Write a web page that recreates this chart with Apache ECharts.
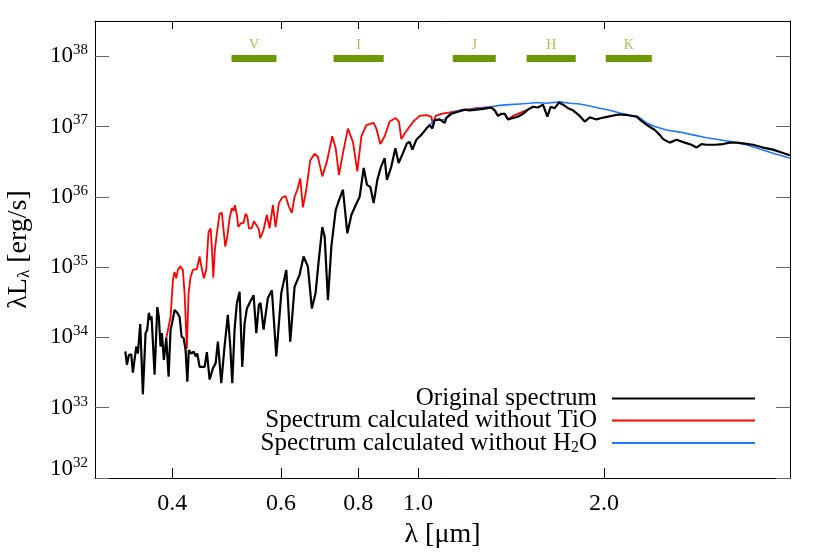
<!DOCTYPE html>
<html>
<head>
<meta charset="utf-8">
<script src="https://cdn.jsdelivr.net/npm/echarts@6/dist/echarts.min.js"></script>
<style>
  html, body { margin: 0; padding: 0; background: #fff; }
  #chart { width: 830px; height: 554px; }
</style>
</head>
<body>
<div id="chart"></div>
<script>
// wavelengths in micron, luminosities as log10(lambda L_lambda / erg s^-1)
const blackLambda = [0.3359,0.3379,0.3404,0.3434,0.3455,0.3476,0.3498,0.3520,0.3551,0.3586,
  0.3622,0.3645,0.3667,0.3686,0.3704,0.3746,0.3784,0.3806,0.3830,0.3849,
  0.3878,0.3913,0.3947,0.3976,0.4002,0.4036,0.4077,0.4112,0.4143,0.4174,
  0.4205,0.4232,0.4256,0.4295,0.4333,0.4365,0.4392,0.4430,0.4475,0.4514,
  0.4552,0.4599,0.4655,0.4703,0.4743,0.4803,0.4862,0.4922,0.4967,0.5004,
  0.5047,0.5091,0.5142,0.5194,0.5239,0.5284,0.5337,0.5418,0.5473,0.5525,
  0.5560,0.5623,0.5714,0.5800,0.5896,0.6007,0.6120,0.6211,0.6312,0.6430,
  0.6527,0.6632,0.6732,0.6826,0.6904,0.6999,0.7061,0.7148,0.7239,0.7357,
  0.7447,0.7559,0.7684,0.7799,0.7926,0.8045,0.8166,0.8266,0.8371,0.8475,
  0.8593,0.8698,0.8830,0.8905,0.9052,0.9190,0.9302,0.9453,0.9594,0.9692,
  0.9790,0.9936,1.0123,1.0313,1.0442,1.0548,1.0639,1.0839,1.1043,1.1112,
  1.1321,1.1602,1.1898,1.2120,1.2427,1.2737,1.3143,1.3305,1.3471,1.3643,
  1.3811,1.3983,1.4246,1.4514,1.4787,1.5063,1.5346,1.5635,1.5929,1.6195,
  1.6394,1.6641,1.6908,1.7163,1.7487,1.7816,1.8268,1.8612,1.8962,1.9441,
  1.9807,2.0301,2.0819,2.1211,2.1880,2.2576,2.2999,2.3573,2.4166,2.4620,
  2.4922,2.5553,2.6199,2.7026,2.7707,2.8228,2.8760,2.9302,3.0226,3.1179,
  3.1966,3.2776,3.3594,3.4853,3.6178,3.7547,3.8752,3.9967];
const blackLogL = [33.80,33.61,33.75,33.76,33.50,33.51,33.87,33.77,34.19,33.19,
  34.06,34.11,34.35,34.25,34.30,33.47,34.43,34.29,33.87,34.06,
  33.68,33.99,33.44,34.11,34.22,34.39,34.35,34.29,34.01,33.99,
  33.82,33.37,33.82,33.77,33.80,33.73,33.77,33.58,33.58,33.58,
  33.79,33.40,33.56,33.63,33.94,33.35,33.87,34.32,33.87,33.35,
  34.11,34.49,34.65,33.58,34.20,34.41,34.49,34.60,34.06,34.46,
  34.49,34.11,34.56,34.67,33.73,34.63,34.96,33.94,34.72,34.89,
  35.15,35.01,34.41,34.63,35.08,35.57,35.43,34.53,35.29,35.81,
  35.95,36.10,35.48,35.74,35.88,36.00,36.41,36.17,36.14,35.91,
  36.24,36.41,36.55,36.24,36.43,36.69,36.48,36.62,36.76,36.78,
  36.67,36.81,36.88,36.97,37.02,36.97,37.09,37.10,37.05,37.12,
  37.18,37.21,37.24,37.23,37.24,37.25,37.27,37.23,37.15,37.18,
  37.18,37.10,37.12,37.14,37.18,37.24,37.28,37.27,37.31,37.14,
  37.28,37.26,37.34,37.31,37.26,37.23,37.15,37.07,37.13,37.10,
  37.12,37.14,37.16,37.17,37.16,37.14,37.08,37.01,36.95,36.88,
  36.82,36.77,36.81,36.77,36.74,36.70,36.75,36.74,36.74,36.75,
  36.77,36.77,36.76,36.74,36.70,36.67,36.63,36.59];

const redLambda = [0.3913,0.3976,0.4011,0.4036,0.4061,0.4086,0.4122,0.4162,0.4189,0.4225,
  0.4252,0.4284,0.4321,0.4385,0.4430,0.4457,0.4501,0.4541,0.4580,0.4615,
  0.4637,0.4662,0.4689,0.4725,0.4773,0.4814,0.4844,0.4875,0.4911,0.4953,
  0.4996,0.5028,0.5052,0.5091,0.5117,0.5162,0.5219,0.5259,0.5292,0.5324,
  0.5378,0.5424,0.5473,0.5525,0.5554,0.5623,0.5692,0.5750,0.5822,0.5880,
  0.5953,0.6029,0.6103,0.6180,0.6248,0.6312,0.6376,0.6447,0.6510,0.6593,
  0.6692,0.6801,0.6885,0.6999,0.7120,0.7264,0.7357,0.7447,0.7559,0.7700,
  0.7845,0.7975,0.8095,0.8248,0.8475,0.8560,0.8689,0.8830,0.8996,0.9199,
  0.9313,0.9397,0.9513,0.9692,0.9849,1.0060,1.0313,1.0507,1.0570,1.0678,
  1.0906,1.1250,1.1602,1.1973,1.2427,1.2900,1.3143,1.3305,1.3471,1.3643,
  1.3811,1.3983,1.4246,1.4514,1.4787,1.5063];
const redLogL = [33.99,34.29,34.82,34.93,34.84,34.96,35.01,34.96,34.63,33.84,
  34.63,34.86,34.96,34.97,35.15,35.02,34.84,34.96,35.50,35.55,
  35.29,34.85,35.24,35.48,35.76,35.77,35.53,35.29,35.43,35.69,
  35.84,35.80,35.88,35.74,35.57,35.62,35.63,35.76,35.72,35.55,
  35.55,35.65,35.60,35.54,35.41,35.53,35.74,35.55,35.88,35.57,
  35.91,35.99,36.01,35.86,35.77,36.00,36.10,36.26,35.85,36.10,
  36.52,36.61,36.57,36.29,36.50,36.86,36.69,36.31,36.62,36.97,
  36.78,36.36,36.86,37.02,37.05,36.97,36.75,36.86,37.07,37.12,
  37.07,36.82,36.90,37.00,37.08,37.15,37.16,37.14,37.03,37.15,
  37.18,37.20,37.22,37.24,37.26,37.27,37.27,37.23,37.15,37.18,
  37.18,37.10,37.15,37.18,37.21,37.24];

const blueLambda = [1.0123,1.0442,1.0639,1.1043,1.1250,1.1678,1.2120,1.2580,1.3143,1.3557,
  1.4073,1.4607,1.5161,1.5542,1.6132,1.6955,1.7599,1.8268,1.8962,1.9679,
  2.0427,2.1211,2.2014,2.2711,2.3432,2.4166,2.5236,2.6525,2.7872,2.9302,
  3.0786,3.2362,3.4020,3.5735,3.7547,3.9967];
const blueLogL = [36.88,37.02,37.09,37.10,37.18,37.23,37.24,37.26,37.28,37.30,
  37.31,37.32,37.33,37.34,37.33,37.35,37.33,37.32,37.29,37.26,
  37.23,37.19,37.16,37.14,37.05,37.00,36.95,36.92,36.88,36.84,
  36.81,36.78,36.74,36.68,36.62,36.55];

// photometric bands (micron)
const bandNames = ['V', 'I', 'J', 'H', 'K'];
const bandStart = [0.499, 0.730, 1.138, 1.499, 2.013];
const bandEnd = [0.590, 0.880, 1.336, 1.800, 2.390];
const bandLogL = 37.967;
const bandLabelLogL = 38.16;

const seriesNames = ['Original spectrum', 'Spectrum calculated without TiO', 'Spectrum calculated without H2O'];
const xTicks = [0.4, 0.6, 0.8, 1.0, 2.0];
const yTickExps = [32, 33, 34, 35, 36, 37, 38];

const FONT = 'Liberation Serif';
const yTicks = yTickExps.map((e) => Math.pow(10, e));

function toPoints(lambda, logL) {
  const n = Math.min(lambda.length, logL.length);
  const out = [];
  for (let i = 0; i < n; i++) out.push([lambda[i], Math.pow(10, logL[i])]);
  return out;
}

const chart = echarts.init(document.getElementById('chart'), null, { renderer: 'canvas' });

const bandSeries = bandNames.map((name, i) => ({
  name: 'band-' + name,
  type: 'line',
  symbol: 'none',
  silent: true,
  z: 1,
  lineStyle: { color: '#6a9a00', width: 7, cap: 'butt' },
  data: [[bandStart[i], Math.pow(10, bandLogL)], [bandEnd[i], Math.pow(10, bandLogL)]]
}));

const bandLabels = {
  name: 'band-labels',
  type: 'scatter',
  symbolSize: 1,
  silent: true,
  itemStyle: { color: 'rgba(0,0,0,0)' },
  label: {
    show: true,
    position: 'inside',
    formatter: '{b}',
    fontFamily: FONT,
    fontSize: 14,
    color: '#8ab42e'
  },
  data: bandNames.map((name, i) => ({
    name: name,
    value: [Math.sqrt(bandStart[i] * bandEnd[i]), Math.pow(10, bandLabelLogL)]
  }))
};

const logX = {
  type: 'log',
  logBase: 10,
  min: 0.3,
  max: 4.0,
  splitLine: { show: false },
  axisLine: { show: true, onZero: false, lineStyle: { color: '#000', width: 1 } }
};
const logY = {
  type: 'log',
  logBase: 10,
  min: 1e32,
  max: Math.pow(10, 38.5),
  splitLine: { show: false },
  axisLine: { show: true, onZero: false, lineStyle: { color: '#000', width: 1 } }
};

const option = {
  animation: false,
  backgroundColor: '#fff',
  grid: { left: 95, right: 40, top: 21, bottom: 76, containLabel: false, outerBoundsMode: 'none' },
  legend: {
    data: seriesNames,
    orient: 'vertical',
    right: 75,
    top: 386,
    align: 'right',
    padding: 0,
    itemGap: -3,
    icon: 'rect',
    itemWidth: 143,
    itemHeight: 2,
    selectedMode: false,
    formatter: (name) => name === seriesNames[2]
      ? '{t|Spectrum calculated without H}{sub|2}{t|O}'
      : '{t|' + name + '}',
    textStyle: {
      fontFamily: FONT,
      fontSize: 25,
      lineHeight: 21,
      color: '#000',
      padding: [0, 10, 0, 0],
      rich: {
        t: { fontFamily: FONT, fontSize: 25, lineHeight: 21 },
        sub: { fontFamily: FONT, fontSize: 16, lineHeight: 21, padding: [10, 0, 0, 0] }
      }
    }
  },
  xAxis: [
    Object.assign({}, logX, {
      position: 'bottom',
      name: 'λ [μm]',
      nameLocation: 'middle',
      nameGap: 40,
      nameTextStyle: { fontFamily: FONT, fontSize: 28, color: '#000' },
      axisTick: { show: true, inside: true, length: 10, customValues: xTicks, lineStyle: { color: '#000' } },
      axisLabel: {
        show: true,
        customValues: xTicks,
        margin: 14,
        fontFamily: FONT,
        fontSize: 24,
        color: '#000',
        formatter: (v) => Number(v).toFixed(1)
      }
    }),
    Object.assign({}, logX, {
      position: 'top',
      axisTick: { show: true, inside: true, length: 8, customValues: xTicks, lineStyle: { color: '#000' } },
      axisLabel: { show: false }
    })
  ],
  yAxis: [
    Object.assign({}, logY, {
      position: 'left',
      name: 'λL{sub|λ} [erg/s]',
      nameLocation: 'middle',
      nameRotate: 90,
      nameGap: 62,
      nameTextStyle: {
        fontFamily: FONT,
        fontSize: 28,
        color: '#000',
        rich: {
          sub: { fontFamily: FONT, fontSize: 17, padding: [12, 0, 0, 0] }
        }
      },
      axisTick: { show: true, inside: true, length: 14, customValues: yTicks, lineStyle: { color: '#666' } },
      axisLabel: {
        show: true,
        customValues: yTicks,
        margin: 7,
        color: '#000',
        formatter: (v) => {
          const e = Math.round(Math.log10(v));
          if (e === 32) return '{bl|10}{sl|' + e + '}';
          return '{b|10}{s|' + e + '}';
        },
        rich: {
          b: { fontFamily: FONT, fontSize: 23, color: '#000' },
          s: { fontFamily: FONT, fontSize: 15, color: '#000', padding: [0, 0, 12, 0] },
          bl: { fontFamily: FONT, fontSize: 23, color: '#000', padding: [0, 0, 18, 0] },
          sl: { fontFamily: FONT, fontSize: 15, color: '#000', padding: [0, 0, 30, 0] }
        }
      }
    }),
    Object.assign({}, logY, {
      position: 'right',
      axisTick: { show: true, inside: true, length: 14, customValues: yTicks, lineStyle: { color: '#666' } },
      axisLabel: { show: false }
    })
  ],
  series: [
    ...bandSeries,
    bandLabels,
    {
      name: seriesNames[1],
      type: 'line',
      symbol: 'none',
      z: 3,
      lineStyle: { color: '#ff0000', width: 1.8 },
      itemStyle: { color: '#ff0000' },
      data: toPoints(redLambda, redLogL)
    },
    {
      name: seriesNames[2],
      type: 'line',
      symbol: 'none',
      z: 3,
      lineStyle: { color: '#1f78ff', width: 1.6 },
      itemStyle: { color: '#1f78ff' },
      data: toPoints(blueLambda, blueLogL)
    },
    {
      name: seriesNames[0],
      type: 'line',
      symbol: 'none',
      z: 4,
      lineStyle: { color: '#000000', width: 2.2 },
      itemStyle: { color: '#000000' },
      data: toPoints(blackLambda, blackLogL)
    }
  ]
};

chart.setOption(option);
</script>
</body>
</html>
